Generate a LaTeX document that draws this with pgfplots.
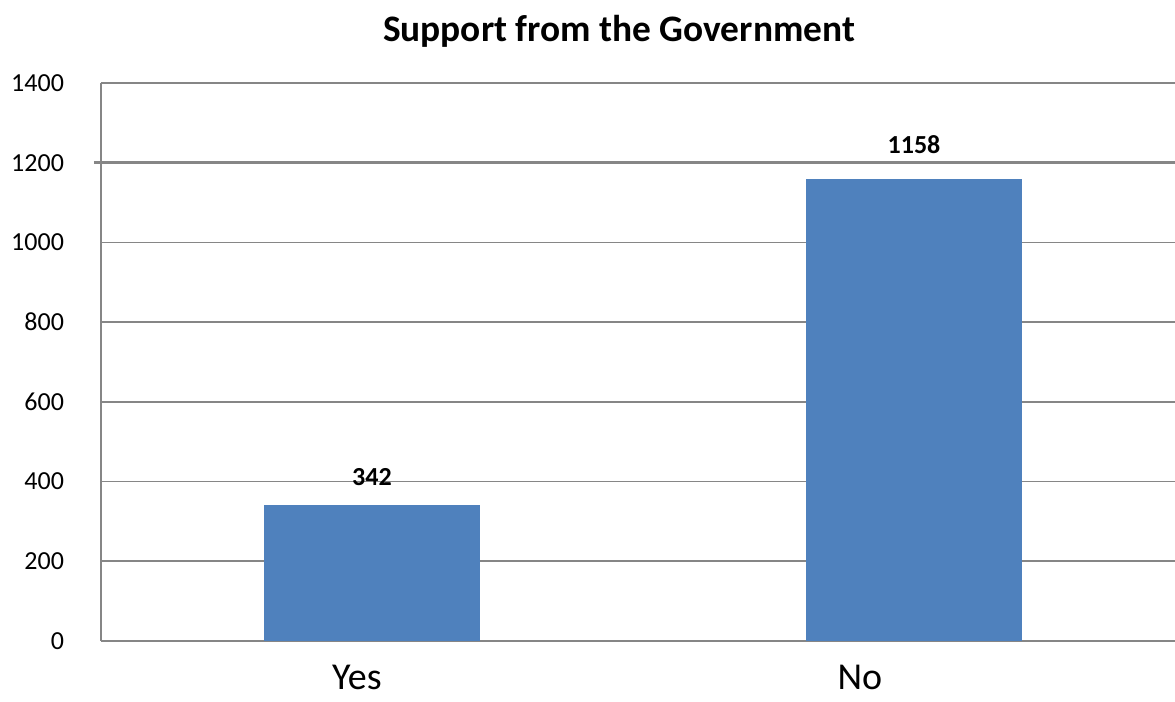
\documentclass[border=0pt]{standalone}
\usepackage{fontspec}
\setmainfont{Carlito}
\usepackage{pgfplots}
\pgfplotsset{compat=1.18}
\definecolor{barblue}{HTML}{4F81BD}
\definecolor{gridgray}{HTML}{868686}
\begin{document}
\begin{tikzpicture}[x=1pt,y=1pt]
\useasboundingbox (0,0) rectangle (587.5,351);
\begin{axis}[
  at={(50.5pt,30.5pt)}, anchor=south west,
  scale only axis, width=542pt, height=279pt,
  xmin=-0.5, xmax=1.5, ymin=0, ymax=1400,
  axis x line=bottom, axis y line=left,
  axis line style={gridgray, line width=0.8pt, -},
  xtick={-0.028,0.9}, xticklabels={Yes,No},
  ytick={0,200,...,1400},
  major tick length=0pt,
  ymajorgrids, grid style={gridgray, line width=0.8pt},
  extra y ticks={1200}, extra y tick labels={},
  extra tick style={grid style={gridgray, line width=1.5pt}, major tick length=7pt, tick style={gridgray, line width=1.5pt}},
  /pgf/number format/assume math mode=true,
  /pgf/number format/1000 sep={},
  yticklabel style={font=\fontsize{13}{15}\selectfont, xshift=-15pt},
  xticklabel style={font=\fontsize{19}{22}\selectfont, inner sep=0pt, yshift=-12pt},
  ybar, bar width=108pt, bar shift=0pt,
  nodes near coords,
  clip=false,
]
\addplot[fill=barblue, draw=none, nodes near coords style={font=\bfseries\fontsize{13}{15}\selectfont, yshift=6pt}] coordinates {(0,342)};
\addplot[fill=barblue, draw=none, nodes near coords style={font=\bfseries\fontsize{13}{15}\selectfont, yshift=9.5pt}] coordinates {(1,1158)};
\end{axis}
\node[anchor=base, font=\bfseries\fontsize{18.7}{22}\selectfont] at (309.5,330) {Support from the Government};
\end{tikzpicture}
\end{document}
